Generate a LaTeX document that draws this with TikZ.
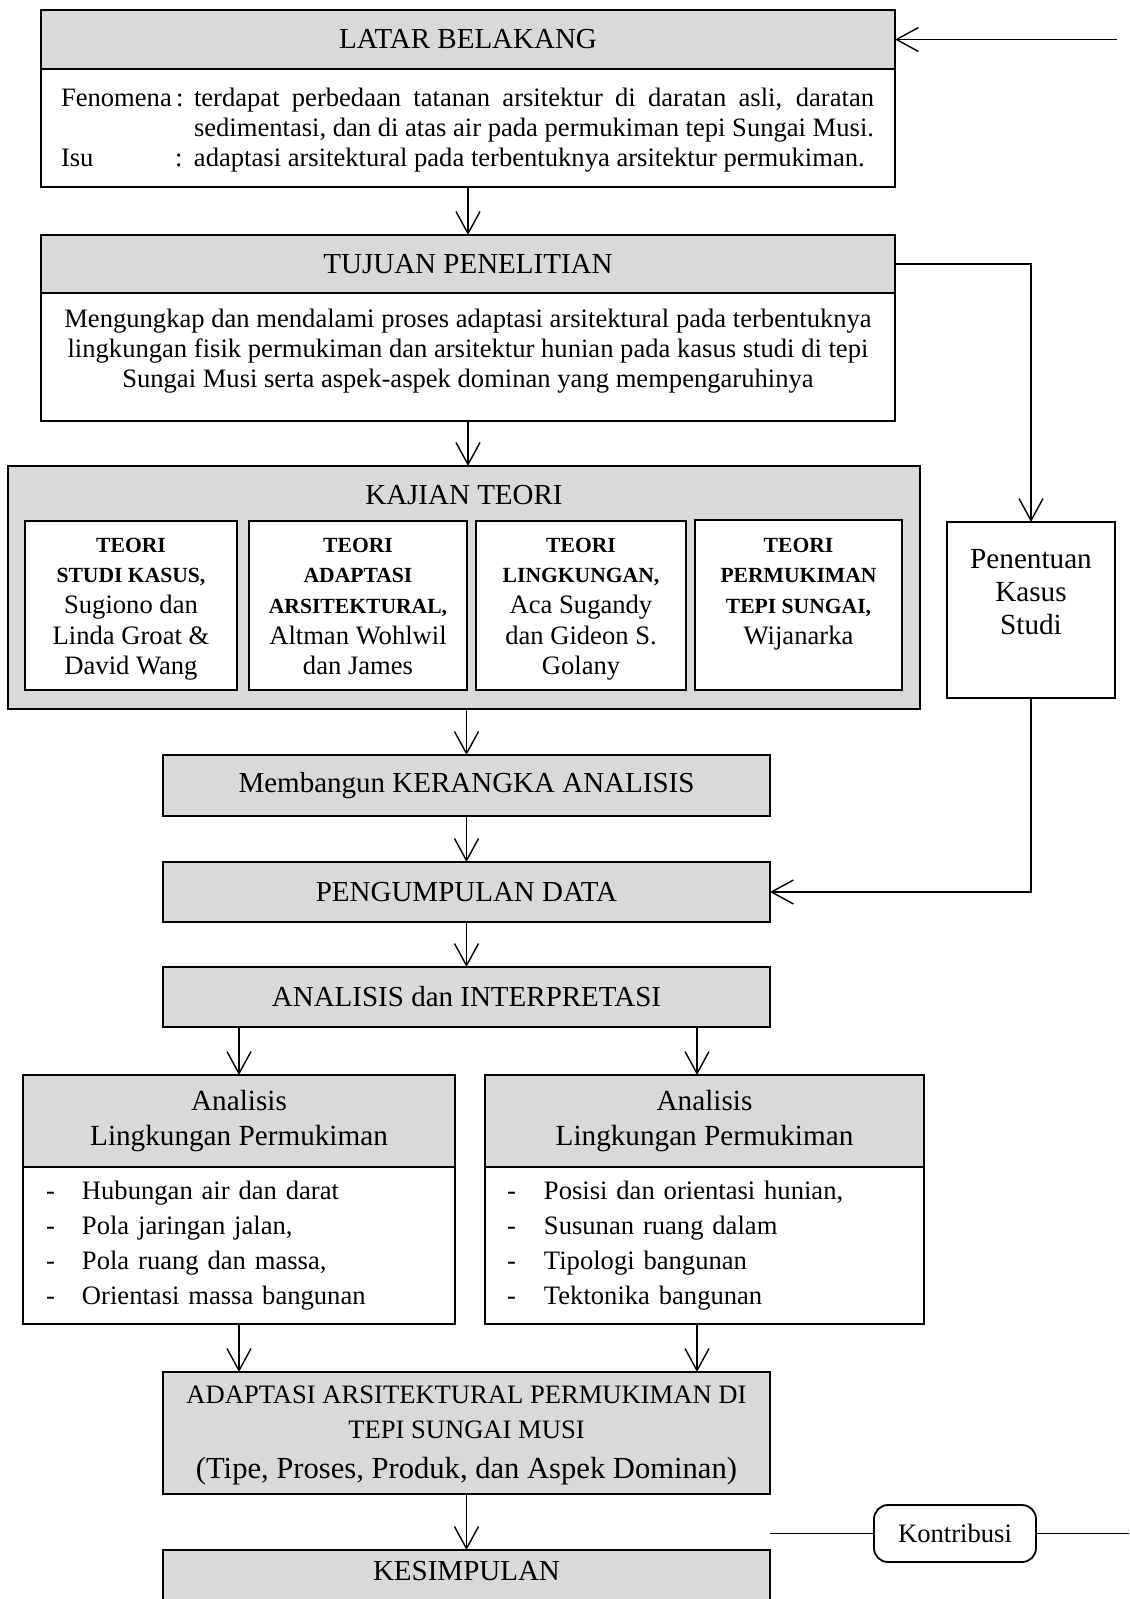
\documentclass[tikz,border=0pt]{standalone}
\usepackage{fontspec}
\setmainfont{Liberation Serif}
\usetikzlibrary{arrows.meta}
\definecolor{boxgray}{RGB}{217,217,217}
\newcommand{\teorib}[1]{{\fontsize{10.8}{15.3}\selectfont\bfseries #1}}
\newcommand{\bodyfont}{\fontsize{13.3}{15.1}\selectfont}
\newcommand{\hdrfont}{\fontsize{14.5}{17}\selectfont}

\begin{document}
\begin{tikzpicture}[x=0.5pt, y=-0.5pt,
    every node/.style={inner sep=0pt, outer sep=0pt},
    hdr/.style={draw, line width=0.9pt, fill=boxgray, anchor=north west, font=\hdrfont, align=center},
    bdy/.style={draw, line width=0.9pt, fill=white, anchor=north west, font=\bodyfont},
    teoritx/.style={anchor=north, align=center, font=\fontsize{13.3}{15.3}\selectfont},
    items/.style={bdy, align=left, font=\fontsize{13.3}{17.5}\selectfont},
    flow/.style={line width=0.7pt, -{Straight Barb[length=11pt,width=12pt]}},
    lin/.style={line width=0.7pt}]
\useasboundingbox (0,0) rectangle (1129,1599);
\clip (0,0) rectangle (1129,1599);

% latar belakang
\node[hdr, minimum width=427pt, minimum height=29.5pt] (latarhd) at (41,10) {LATAR BELAKANG};
\node[bdy, minimum width=427pt, minimum height=59pt] (latarbd) at (41,69) {};
\node[anchor=west, font=\bodyfont] (latartx) at ([xshift=10pt,yshift=-1.2pt]latarbd.west)
  {\begin{tabular}{@{}p{66.5pt}@{}p{340pt}@{}}
   Fenomena\,: & terdapat perbedaan tatanan arsitektur di daratan asli, daratan\linebreak
   sedimentasi, dan di atas air pada permukiman tepi Sungai Musi.\\
   \makebox[57pt][l]{Isu}: & adaptasi arsitektural pada terbentuknya arsitektur permukiman.
   \end{tabular}};
\coordinate (topin) at (1117,39.5);

% tujuan
\node[hdr, minimum width=427pt, minimum height=29pt] (tujuanhd) at (41,235) {TUJUAN PENELITIAN};
\node[bdy, minimum width=427pt, minimum height=64pt] (tujuanbd) at (41,293) {};
\node[font=\bodyfont, align=center] (tujuantx) at ([yshift=-29pt]tujuanbd.north)
  {Mengungkap dan mendalami proses adaptasi arsitektural pada terbentuknya\\
   lingkungan fisik permukiman dan arsitektur hunian pada kasus studi di tepi\\
   Sungai Musi serta aspek-aspek dominan yang mempengaruhinya};

% kajian teori
\node[hdr, minimum width=456pt, minimum height=121.5pt] (kajian) at (8,466) {};
\node[anchor=base, font=\hdrfont] (kajiantx) at ([yshift=-19.25pt]kajian.north) {KAJIAN TEORI};
\node[bdy, minimum width=106pt, minimum height=84.5pt] (t1) at (25,521) {};
\node[bdy, minimum width=109pt, minimum height=84.5pt] (t2) at (249,521) {};
\node[bdy, minimum width=105pt, minimum height=84.5pt] (t3) at (476,521) {};
\node[bdy, minimum width=103.5pt, minimum height=85pt] (t4) at (695,520) {};
\node[teoritx] (t1tx) at ([yshift=-8.5pt]t1.north)
  {\teorib{TEORI}\\ \teorib{STUDI KASUS,}\\ Sugiono dan\\ Linda Groat \&\\ David Wang};
\node[teoritx] (t2tx) at ([yshift=-8.5pt]t2.north)
  {\teorib{TEORI}\\ \teorib{ADAPTASI}\\ \teorib{ARSITEKTURAL,}\\ Altman Wohlwil\\ dan James};
\node[teoritx] (t3tx) at ([yshift=-8.5pt]t3.north)
  {\teorib{TEORI}\\ \teorib{LINGKUNGAN,}\\ Aca Sugandy\\ dan Gideon S.\\ Golany};
\node[teoritx] (t4tx) at ([yshift=-9pt]t4.north)
  {\teorib{TEORI}\\ \teorib{PERMUKIMAN}\\ \teorib{TEPI SUNGAI,}\\ Wijanarka};

% penentuan kasus studi
\node[bdy, minimum width=84pt, minimum height=88pt] (penentuan) at (947,522) {};
\node[align=center, font=\fontsize{14.6}{16.5}\selectfont] (penentuantx) at ([yshift=-35pt]penentuan.north)
  {Penentuan\\ Kasus\\ Studi};

% alur tengah
\node[hdr, minimum width=303.5pt, minimum height=30.5pt] (membangun) at (163,755) {Membangun KERANGKA ANALISIS};
\node[hdr, minimum width=303.5pt, minimum height=30pt] (pengumpulan) at (163,862) {PENGUMPULAN DATA};
\node[hdr, minimum width=303.5pt, minimum height=30pt] (analisis) at (163,967) {ANALISIS dan INTERPRETASI};

% analisis kiri dan kanan
\node[hdr, minimum width=216pt, minimum height=46pt, font=\fontsize{14.6}{17.5}\selectfont] (lefthd) at (23,1075)
  {Analisis\\ Lingkungan Permukiman};
\node[items, minimum width=216pt, minimum height=78.5pt, inner xsep=11.5pt, text width=193pt] (leftbd) at (23,1167)
  {\makebox[18pt][l]{-}Hubungan air dan darat\\
   \makebox[18pt][l]{-}Pola jaringan jalan,\\
   \makebox[18pt][l]{-}Pola ruang dan massa,\\
   \makebox[18pt][l]{-}Orientasi massa bangunan};
\node[hdr, minimum width=219.5pt, minimum height=46pt, font=\fontsize{14.6}{17.5}\selectfont] (righthd) at (485,1075)
  {Analisis\\ Lingkungan Permukiman};
\node[items, minimum width=219.5pt, minimum height=78.5pt, inner xsep=11pt, text width=197.5pt] (rightbd) at (485,1167)
  {\makebox[18.5pt][l]{-}Posisi dan orientasi hunian,\\
   \makebox[18.5pt][l]{-}Susunan ruang dalam\\
   \makebox[18.5pt][l]{-}Tipologi bangunan\\
   \makebox[18.5pt][l]{-}Tektonika bangunan};
\coordinate (rin) at ([xshift=-3.75pt]righthd.north);
\coordinate (rout) at ([xshift=-3.75pt]rightbd.south);

% hasil
\node[hdr, minimum width=303.5pt, minimum height=61pt] (adaptasi) at (163,1372) {};
\node[align=center, font=\fontsize{13.3}{17.5}\selectfont] (adaptasitx) at ([yshift=-1pt]adaptasi.center)
  {ADAPTASI ARSITEKTURAL PERMUKIMAN DI\\
   TEPI SUNGAI MUSI\\[2.5pt]
   \fontsize{15.3}{17.5}\selectfont (Tipe, Proses, Produk, dan Aspek Dominan)};
\node[hdr, minimum width=303.5pt, minimum height=40pt] (kesimpulan) at (163,1550) {};
\node[font=\hdrfont] (kesimpulantx) at ([yshift=-10.5pt]kesimpulan.north) {KESIMPULAN};
\node[bdy, rounded corners=7pt, minimum width=81pt, minimum height=28.5pt] (kontribusi) at (874,1505) {Kontribusi};
\coordinate (edge) at (1129,1535);

% panah
\draw[flow] (topin) -- (latarhd.east);
\draw[flow] (latarbd.south) -- (tujuanhd.north);
\draw[flow] (tujuanhd.east) -| (penentuan.north);
\draw[flow] (tujuanbd.south) -- (tujuanbd.south |- kajian.north);
\draw[flow] (kajian.south -| membangun.north) -- (membangun.north);
\draw[flow] (membangun.south) -- (pengumpulan.north);
\draw[flow] (penentuan.south) |- (pengumpulan.east);
\draw[flow] (pengumpulan.south) -- (analisis.north);
\draw[flow] (analisis.south -| lefthd.north) -- (lefthd.north);
\draw[flow] (analisis.south -| rin) -- (rin);
\draw[flow] (leftbd.south) -- (leftbd.south |- adaptasi.north);
\draw[flow] (rout) -- (rout |- adaptasi.north);
\draw[flow] (adaptasi.south) -- (kesimpulan.north);
\draw[lin] (kontribusi.west) -- (kontribusi.west -| kesimpulan.east);
\draw[lin] (kontribusi.east) -- (kontribusi.east -| edge);
\end{tikzpicture}
\end{document}
